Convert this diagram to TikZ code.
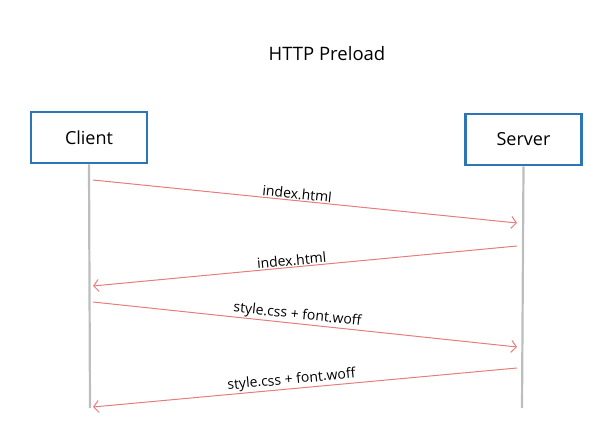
\documentclass[tikz,border=0pt]{standalone}
\usepackage{fontspec}
\setmainfont{Open Sans}
\usetikzlibrary{arrows.meta}
\definecolor{boxblue}{HTML}{2E75B6}
\definecolor{msgred}{HTML}{E67C7C}
\definecolor{lifegray}{HTML}{BDBDBD}

\begin{document}
\begin{tikzpicture}[x=1pt,y=-1pt, actor/.style={draw=boxblue,line width=2.6pt,fill=white,
  minimum width=116pt,minimum height=51pt,font=\fontsize{18}{22}\selectfont},
  life/.style={draw=lifegray,line width=2.2pt}, msg/.style={draw=msgred,line width=1pt,->},
  lbl/.style={font=\fontsize{14}{17}\selectfont,sloped,above,inner sep=1pt},
  >={Straight Barb[length=5pt,width=12pt]}]
\useasboundingbox (0,0) rectangle (616,430);
\node[font=\fontsize{18.5}{22}\selectfont] (title) at (327,54) {HTTP Preload};
\node[actor] (client) at (89,137.5) {Client};
\node[actor] (server) at (523.5,139.5) {Server};
% lifelines
\coordinate (cend) at (90,408); \coordinate (send) at (522,408);
\draw[life] (client.south) -- (cend); \draw[life] (server.south) -- (send);
% message ends
\coordinate (c1) at (93,180); \coordinate (s1) at (517,223);
\coordinate (s2) at (517,246); \coordinate (c2) at (93,286);
\coordinate (c3) at (93,302); \coordinate (s3) at (517,347);
\coordinate (s4) at (517,368); \coordinate (c4) at (93,407);
\draw[msg] (c1) -- node[lbl,pos=0.48] (m1) {index.html} (s1);
\draw[msg] (s2) -- node[lbl,pos=0.53] (m2) {index.html} (c2);
\draw[msg] (c3) -- node[lbl,pos=0.48] (m3) {style.css + font.woff} (s3);
\draw[msg] (s4) -- node[lbl,pos=0.53] (m4) {style.css + font.woff} (c4);
\end{tikzpicture}
\end{document}
